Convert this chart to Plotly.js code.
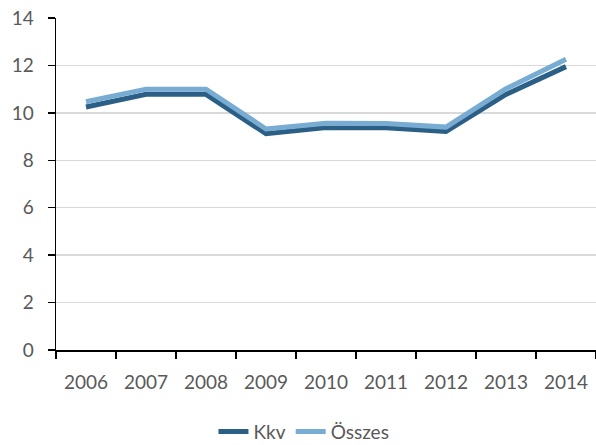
<!DOCTYPE html>
<html>
<head>
<meta charset="utf-8">
<script src="https://cdn.plot.ly/plotly-3.0.1.min.js"></script>
<style>html,body{margin:0;padding:0;background:#fff;}#chart{width:596px;height:445px;}</style>
</head>
<body>
<div id="chart"></div>
<script>
const years = ["2006","2007","2008","2009","2010","2011","2012","2013","2014"];
const kkv = [10.25, 10.78, 10.78, 9.12, 9.38, 9.37, 9.22, 10.78, 11.95];
const osszes = [10.47, 11.0, 11.0, 9.32, 9.56, 9.55, 9.4, 11.02, 12.26];
const yTicks = [0, 2, 4, 6, 8, 10, 12, 14];

const traces = [
  {x: years, y: kkv, name: "Kkv", type: "scatter", mode: "lines",
   line: {color: "#2b5f86", width: 5}},
  {x: years, y: osszes, name: "Összes", type: "scatter", mode: "lines",
   line: {color: "#78acd3", width: 5}}
];

const layout = {
  width: 596, height: 445,
  margin: {l: 56, r: 0, t: 18, b: 95},
  paper_bgcolor: "#fff", plot_bgcolor: "#fff",
  font: {family: "Lato, 'Open Sans', sans-serif", size: 19, color: "#595959"},
  showlegend: true,
  legend: {orientation: "h", xref: "container", yref: "container",
           x: 0.51, xanchor: "center", y: 0.03, yanchor: "middle",
           font: {size: 19, color: "#595959"}, traceorder: "normal"},
  xaxis: {type: "category", range: [-0.5, 8.5], automargin: false,
          showgrid: false, zeroline: false,
          showline: true, linecolor: "#000", linewidth: 1.5,
          ticks: "outside", ticklen: 7, tickcolor: "#000", tickwidth: 1.5,
          tickson: "boundaries", ticklabelstandoff: 15,
          tickfont: {size: 19, color: "#595959"}},
  yaxis: {range: [0, 14], automargin: false, tickvals: yTicks, ticktext: yTicks.map(String),
          showgrid: true, gridcolor: "#d9d9d9", gridwidth: 1.5, zeroline: false,
          showline: true, linecolor: "#000", linewidth: 1.5,
          ticks: "outside", ticklen: 7, tickcolor: "#000", tickwidth: 1.5,
          ticklabelstandoff: 10,
          tickfont: {size: 19, color: "#595959"}}
};

Plotly.newPlot("chart", traces, layout, {displayModeBar: false, staticPlot: true});
</script>
</body>
</html>
